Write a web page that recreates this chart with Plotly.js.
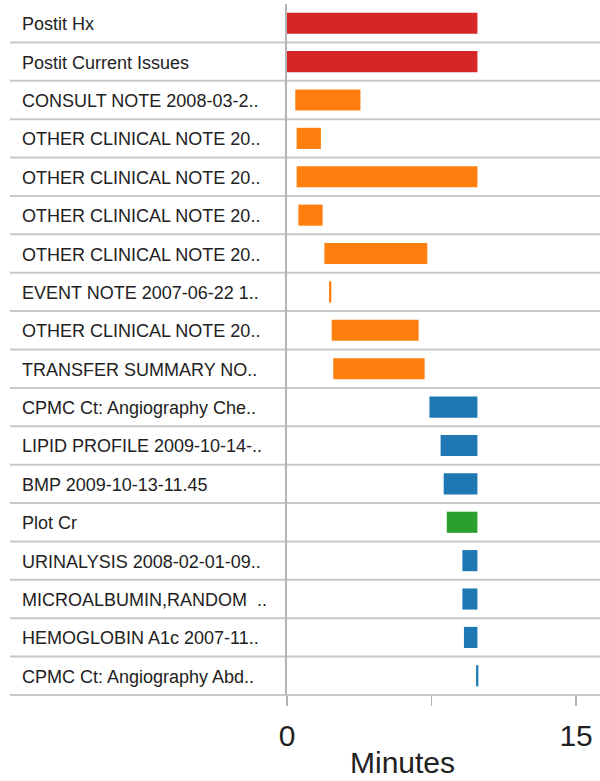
<!DOCTYPE html>
<html>
<head>
<meta charset="utf-8">
<script src="https://cdn.plot.ly/plotly-3.0.1.min.js"></script>
<style>
  html, body { margin: 0; padding: 0; background: #ffffff; }
  #chart { width: 600px; height: 781px; }
</style>
</head>
<body>
<div id="chart"></div>
<script>
// ---- Data ----
const categories = [
  "Postit Hx",
  "Postit Current Issues",
  "CONSULT NOTE 2008-03-2..",
  "OTHER CLINICAL NOTE 20..",
  "OTHER CLINICAL NOTE 20..",
  "OTHER CLINICAL NOTE 20..",
  "OTHER CLINICAL NOTE 20..",
  "EVENT NOTE 2007-06-22 1..",
  "OTHER CLINICAL NOTE 20..",
  "TRANSFER SUMMARY NO..",
  "CPMC Ct: Angiography Che..",
  "LIPID PROFILE 2009-10-14-..",
  "BMP 2009-10-13-11.45",
  "Plot Cr",
  "URINALYSIS 2008-02-01-09..",
  "MICROALBUMIN,RANDOM  ..",
  "HEMOGLOBIN A1c 2007-11..",
  "CPMC Ct: Angiography Abd.."
];
// start and end of each bar, in minutes
const startMinutes = [0.00, 0.00, 0.43, 0.50, 0.50, 0.59, 1.94, 2.18, 2.32, 2.40, 7.39, 7.97, 8.13, 8.29, 9.10, 9.10, 9.18, 9.81];
const endMinutes   = [9.88, 9.88, 3.81, 1.76, 9.88, 1.85, 7.28, 2.30, 6.83, 7.14, 9.88, 9.88, 9.88, 9.88, 9.88, 9.88, 9.88, 9.93];
const groups = ["postit", "postit", "note", "note", "note", "note", "note", "note", "note", "note",
                "lab", "lab", "lab", "plot", "lab", "lab", "lab", "lab"];
const groupColors = { postit: "#d62728", note: "#ff7f0e", lab: "#1f77b4", plot: "#2ca02c" };
const xTickValues = [0, 7.5, 15];
const xTickLabels = ["0", "", "15"];
const xAxisTitle = "Minutes";

// ---- Layout geometry ----
const W = 600, H = 781;
const marginL = 287, marginR = 0, marginT = 4, marginB = 86;
const plotW = W - marginL - marginR;
const xMax = 16.24;
const n = categories.length;
const rowIdx = categories.map((_, i) => i);
const labelFont = { family: "Liberation Sans, Arial, sans-serif", size: 18, color: "#222222" };
const bigFont = { family: "Liberation Sans, Arial, sans-serif", size: 30, color: "#222222" };

const trace = {
  type: "bar",
  orientation: "h",
  y: rowIdx,
  x: endMinutes.map((e, i) => e - startMinutes[i]),
  base: startMinutes,
  width: 0.55,
  marker: { color: groups.map(g => groupColors[g]), line: { width: 0 } },
  hoverinfo: "skip",
  showlegend: false
};

const shapes = [];
for (let k = 1; k <= n; k++) {
  shapes.push({
    type: "line", xref: "paper", yref: "paper",
    x0: (10 - marginL) / plotW, x1: 1,
    y0: 1 - k / n, y1: 1 - k / n,
    line: { color: "#c8c8c8", width: 2 },
    layer: "below"
  });
}

const annotations = categories.map((c, i) => ({
  xref: "paper", yref: "y",
  x: (20 - marginL) / plotW, y: i,
  xanchor: "left", yanchor: "middle",
  yshift: -1,
  text: c, showarrow: false,
  font: labelFont
}));
annotations.push({
  xref: "paper", yref: "paper",
  x: (402 - marginL) / plotW, y: 0,
  xanchor: "center", yanchor: "top", yshift: -49,
  text: xAxisTitle, showarrow: false,
  font: bigFont
});

const layout = {
  width: W, height: H,
  margin: { l: marginL, r: marginR, t: marginT, b: marginB, pad: 0 },
  paper_bgcolor: "#ffffff",
  plot_bgcolor: "#ffffff",
  barmode: "overlay",
  showlegend: false,
  xaxis: {
    range: [0, xMax],
    tickmode: "array",
    tickvals: xTickValues,
    ticktext: xTickLabels,
    ticks: "outside", ticklen: 10, tickwidth: 1.5, tickcolor: "#b4b4b4",
    ticklabelstandoff: 4,
    showgrid: false, zeroline: false, showline: false,
    tickfont: bigFont,
    fixedrange: true
  },
  yaxis: {
    range: [n - 0.5, -0.5],
    showticklabels: false,
    ticks: "",
    showgrid: false, zeroline: false,
    showline: true, linecolor: "#b4b4b4", linewidth: 2,
    fixedrange: true
  },
  shapes: shapes,
  annotations: annotations
};

Plotly.newPlot("chart", [trace], layout, { displayModeBar: false, staticPlot: true });
</script>
</body>
</html>
